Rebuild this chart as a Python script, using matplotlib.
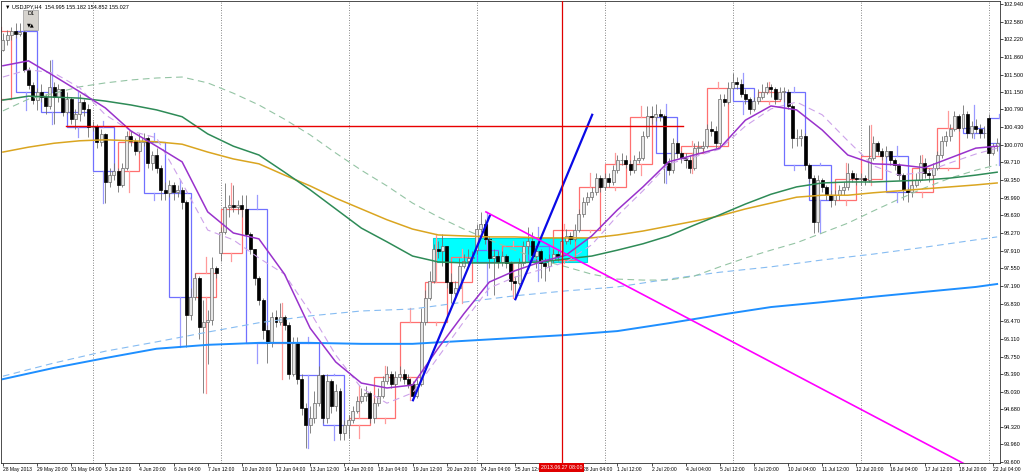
import matplotlib.pyplot as plt
import matplotlib.transforms as mtransforms
from matplotlib.patches import Rectangle
import numpy as np

plt.rcParams['font.family'] = ['Liberation Sans', 'DejaVu Sans']

# ---- H4 candles: bar -3 = 28 May 2013 00:00 ... bar 233 = 22 Jul 2013 08:00 ----
first_open = 101.00
closes = [
    101.30, 101.70, 102.00, 102.21, 102.30, 102.39,   # 28 May
    102.32, 102.37, 101.59, 101.29, 100.98, 101.15,   # 29 May
    101.05, 100.85, 101.25, 101.05, 101.20, 100.74,   # 30 May
    101.00, 100.60, 100.70, 100.95, 100.80, 100.43,   # 31 May
    100.45, 100.12, 100.28, 99.30, 99.45, 99.53,      # 3 Jun
    99.25, 99.60, 100.25, 100.15, 99.95, 100.13,      # 4 Jun
    100.20, 99.70, 99.85, 99.60, 99.15, 99.09,        # 5 Jun
    99.25, 99.10, 99.15, 98.90, 96.60, 96.97,         # 6 Jun
    97.35, 96.35, 96.45, 96.50, 97.55, 97.45,         # 7 Jun
    98.30, 98.80, 98.85, 98.80, 98.85, 98.76,         # 10 Jun
    98.25, 97.95, 97.35, 96.90, 96.30, 96.03,         # 11 Jun
    96.55, 96.45, 96.55, 96.40, 95.40, 96.03,         # 12 Jun
    95.30, 94.70, 94.35, 94.50, 94.80, 95.37,         # 13 Jun
    94.50, 95.25, 94.75, 95.05, 94.20, 94.35,         # 14 Jun
    94.45, 94.65, 94.85, 94.95, 95.00, 94.49,         # 17 Jun
    94.80, 94.95, 95.25, 95.40, 95.20, 95.33,         # 18 Jun
    95.40, 95.30, 95.20, 94.95, 95.20, 96.45,         # 19 Jun
    96.95, 97.30, 97.95, 97.90, 98.00, 97.27,         # 20 Jun
    97.05, 97.15, 97.60, 97.70, 97.75, 97.78,         # 21 Jun
    98.35, 98.45, 98.15, 97.75, 97.80, 97.68,         # 24 Jun
    97.80, 97.65, 97.30, 97.25, 97.65, 98.00,         # 25 Jun
    98.10, 97.80, 97.90, 97.65, 97.60, 97.72,         # 26 Jun
    97.85, 97.80, 98.10, 98.20, 98.15, 98.33,         # 27 Jun
    98.65, 98.90, 99.00, 99.10, 99.40, 99.20,         # 28 Jun
    99.40, 99.30, 99.55, 99.75, 99.75, 99.68,         # 1 Jul
    99.55, 99.75, 99.80, 100.25, 100.65, 100.64,      # 2 Jul
    100.70, 100.65, 99.70, 99.55, 100.10, 99.90,      # 3 Jul
    99.80, 99.75, 99.60, 100.00, 100.00, 100.04,      # 4 Jul
    100.40, 100.35, 100.10, 101.00, 100.95, 101.23,   # 5 Jul
    101.35, 101.30, 101.10, 101.00, 100.80, 100.96,   # 8 Jul
    101.05, 101.15, 101.25, 101.20, 101.00, 101.15,   # 9 Jul
    101.15, 100.85, 100.20, 100.20, 100.25, 99.66,    # 10 Jul
    99.40, 98.50, 99.35, 99.20, 99.05, 98.94,         # 11 Jul
    99.05, 99.15, 99.20, 99.50, 99.40, 99.37,         # 12 Jul
    99.40, 99.35, 99.80, 100.10, 99.95, 99.84,        # 15 Jul
    99.95, 99.75, 99.65, 99.45, 99.15, 99.10,         # 16 Jul
    99.25, 99.35, 99.70, 99.50, 99.45, 99.60,         # 17 Jul
    99.85, 100.15, 100.25, 100.40, 100.65, 100.41,    # 18 Jul
    100.70, 100.30, 100.45, 100.40, 100.30, 100.31,   # 19 Jul
    99.90, 100.05, 100.10,                            # 22 Jul
]
highs = [
    101.40, 101.80, 102.10, 102.35, 102.40, 102.48,
    102.55, 102.55, 102.40, 101.65, 101.35, 101.22,
    101.30, 101.10, 101.80, 101.35, 101.30, 101.20,
    101.15, 101.05, 100.80, 101.10, 101.00, 100.90,
    100.55, 100.50, 100.40, 100.30, 99.60, 99.70,
    99.60, 99.70, 100.35, 100.35, 100.20, 100.30,
    100.30, 100.25, 99.95, 100.00, 99.65, 99.30,
    99.35, 99.30, 99.25, 99.20, 98.95, 97.15,
    97.45, 97.40, 96.90, 96.70, 97.78, 97.60,
    98.40, 99.29, 99.05, 99.25, 98.95, 99.05,
    99.04, 98.30, 97.95, 97.40, 96.95, 96.40,
    96.65, 96.70, 96.85, 96.60, 96.45, 96.15,
    96.15, 95.40, 94.80, 94.75, 95.05, 95.55,
    95.40, 95.40, 95.30, 95.20, 95.10, 94.45,
    94.55, 94.75, 94.95, 95.10, 95.15, 95.05,
    94.90, 95.10, 95.35, 95.55, 95.45, 95.45,
    95.55, 95.50, 95.40, 95.25, 95.30, 96.75,
    97.10, 97.50, 98.05, 98.10, 98.25, 98.00,
    97.45, 97.30, 97.75, 97.85, 97.95, 97.90,
    98.45, 98.70, 98.55, 98.20, 97.95, 97.90,
    97.90, 97.85, 97.70, 97.40, 97.75, 98.10,
    98.40, 98.30, 98.00, 97.95, 97.75, 97.85,
    97.95, 97.95, 98.25, 98.35, 98.30, 98.45,
    98.75, 99.00, 99.10, 99.20, 99.50, 99.45,
    99.50, 99.50, 99.65, 99.85, 99.90, 99.85,
    99.75, 99.85, 99.95, 100.35, 100.85, 100.85,
    100.90, 100.80, 100.70, 99.80, 100.20, 100.15,
    99.95, 99.90, 99.85, 100.10, 100.15, 100.15,
    100.50, 100.55, 100.45, 101.10, 101.10, 101.35,
    101.53, 101.45, 101.40, 101.20, 101.05, 101.05,
    101.20, 101.30, 101.35, 101.30, 101.25, 101.25,
    101.25, 101.20, 100.90, 100.40, 100.40, 100.30,
    99.70, 99.45, 99.45, 99.40, 99.25, 99.15,
    99.15, 99.25, 99.30, 99.70, 99.55, 99.50,
    99.50, 99.45, 100.47, 100.25, 100.15, 100.00,
    100.05, 99.95, 99.80, 99.70, 99.50, 99.20,
    99.35, 99.50, 99.85, 99.80, 99.60, 99.70,
    99.95, 100.25, 100.35, 100.50, 100.75, 100.70,
    100.88, 100.75, 100.55, 100.60, 100.50, 100.45,
    100.70, 100.10, 100.20,
]
lows = [
    100.95, 101.25, 101.65, 101.98, 102.10, 102.20,
    102.25, 102.28, 101.55, 101.20, 100.90, 100.78,
    100.95, 100.70, 100.80, 100.50, 100.95, 100.65,
    100.70, 100.50, 100.40, 100.55, 100.65, 100.23,
    100.35, 100.00, 100.05, 98.88, 99.20, 99.35,
    99.10, 99.20, 99.55, 100.05, 99.85, 99.90,
    100.05, 99.60, 99.55, 99.50, 98.95, 98.95,
    99.00, 98.95, 99.00, 98.75, 95.94, 96.50,
    96.90, 96.10, 95.01, 95.60, 96.40, 97.35,
    97.70, 98.25, 98.60, 98.70, 98.65, 98.60,
    98.20, 97.85, 97.20, 96.80, 96.10, 95.62,
    95.95, 96.35, 96.40, 96.30, 95.30, 95.35,
    95.20, 94.55, 93.89, 94.20, 94.40, 94.75,
    94.40, 94.40, 94.60, 94.65, 94.05, 94.05,
    94.10, 94.40, 94.60, 94.80, 94.85, 94.40,
    94.40, 94.75, 94.90, 95.20, 95.10, 95.15,
    95.25, 95.20, 95.10, 94.86, 94.90, 95.15,
    96.40, 96.90, 97.25, 97.75, 97.60, 97.15,
    96.85, 96.95, 97.10, 97.55, 97.60, 97.65,
    97.85, 98.30, 98.05, 97.55, 97.00, 97.55,
    97.60, 97.55, 97.10, 96.95, 97.20, 97.60,
    97.85, 97.70, 97.55, 97.35, 97.30, 97.50,
    97.65, 97.70, 97.75, 98.05, 98.05, 98.10,
    98.30, 98.60, 98.85, 98.95, 99.05, 99.10,
    99.15, 99.20, 99.25, 99.50, 99.65, 99.60,
    99.45, 99.50, 99.70, 99.75, 100.20, 100.50,
    100.55, 100.55, 99.29, 99.45, 99.50, 99.80,
    99.70, 99.60, 99.50, 99.55, 99.90, 99.95,
    100.00, 100.25, 100.00, 100.05, 100.85, 100.90,
    101.20, 101.20, 101.05, 100.90, 100.70, 100.75,
    100.90, 101.00, 101.10, 101.05, 100.90, 101.00,
    100.95, 100.80, 100.00, 100.05, 100.05, 99.55,
    99.30, 98.27, 98.30, 99.10, 98.95, 98.80,
    98.85, 98.95, 99.05, 99.15, 99.30, 99.25,
    99.25, 99.25, 99.30, 99.75, 99.85, 99.75,
    99.80, 99.65, 99.55, 99.35, 98.95, 98.90,
    99.00, 99.20, 99.30, 99.40, 99.30, 99.40,
    99.55, 99.80, 100.05, 100.15, 100.35, 100.35,
    100.40, 100.20, 100.20, 100.30, 100.20, 100.20,
    99.65, 99.85, 99.95,
]
# weekend gaps: bar index -> open price
gap_opens = {51: 97.86, 111: 97.92, 231: 100.62}

# ---- moving averages ----
ma_long_bars = [0, 12, 24, 36, 48, 60, 72, 84, 96, 108, 120, 132, 144, 156,
                168, 180, 192, 204, 216, 228, 233]
ma_blue = [95.29, 95.52, 95.72, 95.91, 95.99, 96.03, 96.03, 96.01, 96.01, 96.07,
           96.13, 96.19, 96.27, 96.43, 96.60, 96.76, 96.86, 96.97, 97.07, 97.17, 97.23]
ma_lightblue = [95.35, 95.62, 95.86, 96.05, 96.25, 96.44, 96.58, 96.68, 96.72, 96.86,
                96.99, 97.09, 97.17, 97.33, 97.47, 97.58, 97.72, 97.84, 97.98, 98.13, 98.19]

ma_short_bars = list(range(0, 229, 6)) + [233]
ma_orange = [99.92, 100.02, 100.10, 100.15, 100.17, 100.15, 100.13, 100.08, 99.92, 99.78,
             99.68, 99.45, 99.23, 98.98, 98.76, 98.54, 98.35, 98.23, 98.21, 98.19,
             98.19, 98.17, 98.17, 98.17, 98.23, 98.31, 98.41, 98.51, 98.62, 98.76,
             98.88, 99.00, 99.04, 99.04, 99.09, 99.13, 99.17, 99.21, 99.25, 99.29]
ma_green = [100.98, 101.06, 101.04, 101.02, 100.96, 100.88, 100.78, 100.64, 100.29, 100.04,
            99.86, 99.51, 99.15, 98.76, 98.37, 98.09, 97.80, 97.68, 97.66, 97.66,
            97.66, 97.68, 97.74, 97.80, 97.92, 98.05, 98.21, 98.43, 98.64, 98.86,
            99.06, 99.21, 99.29, 99.31, 99.31, 99.33, 99.35, 99.39, 99.45, 99.51]
ma_lightgreen = [100.76, 101.00, 101.12, 101.25, 101.33, 101.39, 101.43, 101.45, 101.33, 101.12,
                 100.88, 100.59, 100.27, 99.90, 99.55, 99.23, 98.88, 98.60, 98.35, 98.13,
                 97.92, 97.72, 97.58, 97.43, 97.33, 97.31, 97.31, 97.39, 97.58, 97.76,
                 97.92, 98.07, 98.27, 98.47, 98.72, 98.96, 99.19, 99.39, 99.55, 99.66]
ma_purple = [101.68, 101.78, 101.47, 101.15, 100.82, 100.35, 100.04, 99.72, 98.70, 98.27,
             98.15, 97.43, 96.33, 95.64, 95.21, 95.11, 95.17, 95.92, 96.62, 97.27,
             97.50, 97.68, 97.82, 98.21, 98.74, 99.21, 99.72, 99.86, 100.00, 100.57,
             100.86, 100.78, 100.37, 99.86, 99.68, 99.66, 99.60, 99.80, 100.00, 100.04]
ma_purple_slow = [101.45, 101.60, 101.53, 101.23, 100.68, 100.35, 100.21, 99.29, 98.33, 98.13,
                  97.76, 97.43, 96.66, 95.78, 95.11, 94.80, 95.01, 95.74, 96.46, 97.15,
                  97.37, 97.52, 97.68, 98.03, 98.62, 99.13, 99.68, 99.82, 99.98, 100.45,
                  100.80, 100.94, 100.68, 100.15, 99.64, 99.45, 99.51, 99.70, 99.88, 100.00]

# ---- drawn objects ----
trend_blue_1 = ([96.1, 114.1], [94.86, 98.62])
trend_blue_2 = ([120.1, 138.1], [96.92, 100.68])
trend_magenta = ([113.2, 240.0], [98.70, 92.89])
level_red = 100.45
level_red_bars = (14.7, 159.3)
cursor_bar = 131
zone_bars = (100.9, 137.0)
zone_prices = (97.68, 98.17)
week_starts = [21, 51, 81, 111, 141, 171, 201, 231]

ytick_vals = [102.94, 102.58, 102.22, 101.86, 101.50, 101.15, 100.79, 100.43, 100.07,
              99.71, 99.35, 98.99, 98.63, 98.27, 97.91, 97.55, 97.19, 96.83, 96.47,
              96.11, 95.75, 95.39, 95.03, 94.68, 94.32, 93.96, 93.60]
xtick_bars = list(range(0, 233, 8))
# the label at 26 Jun 20:00 sits under the cursor time box, so it is left blank
xtick_text = ['28 May 2013', '29 May 20:00', '31 May 04:00', '3 Jun 12:00', '4 Jun 20:00',
              '6 Jun 04:00', '7 Jun 12:00', '10 Jun 20:00', '12 Jun 04:00', '13 Jun 12:00',
              '14 Jun 20:00', '18 Jun 04:00', '19 Jun 12:00', '20 Jun 20:00', '24 Jun 04:00',
              '25 Jun 12:00', '', '28 Jun 04:00', '1 Jul 12:00', '2 Jul 20:00',
              '4 Jul 04:00', '5 Jul 12:00', '8 Jul 20:00', '10 Jul 04:00', '11 Jul 12:00',
              '12 Jul 20:00', '16 Jul 04:00', '17 Jul 12:00', '18 Jul 20:00', '22 Jul 04:00']

# ---- build OHLC ----
bars = np.arange(-3, -3 + len(closes))
c = np.array(closes)
o = np.r_[first_open, c[:-1]]
for b, v in gap_opens.items():
    o[b + 3] = v
h = np.maximum(np.array(highs), np.maximum(o, c))
l = np.minimum(np.array(lows), np.minimum(o, c))

fig = plt.figure(figsize=(10.24, 4.75), dpi=100)
ax = fig.add_axes([0.0005, 0.0246, 0.9756, 0.9733])
ax.set_xlim(-0.56, 233.56)
ax.set_ylim(93.574, 103.0)

# cyan zone
ax.add_patch(Rectangle((zone_bars[0], zone_prices[0]), zone_bars[1] - zone_bars[0],
                       zone_prices[1] - zone_prices[0], facecolor='#00FFFF',
                       edgecolor='#00D8D8', lw=0.8, zorder=1))

# week separators
for wb in week_starts:
    ax.axvline(wb, color='#606060', lw=0.6, ls=(0, (1, 2)), zorder=1.5)

# D1 candles (aggregated from the H4 bars, 6 per day)
for k in range(0, len(c), 6):
    sl = slice(k, min(k + 6, len(c)))
    d_o, d_c = o[sl][0], c[sl][-1]
    d_h, d_l = h[sl].max(), l[sl].min()
    x0 = bars[k]
    x1 = x0 + 5
    xm = (x0 + x1) / 2
    col = '#FF7070' if d_c >= d_o else '#7070FF'
    wcol = '#FF9A9A' if d_c >= d_o else '#9A9AFF'
    top, bot = max(d_o, d_c), min(d_o, d_c)
    ax.add_patch(Rectangle((x0, bot), x1 - x0, top - bot, fill=False,
                           edgecolor=col, lw=0.9, zorder=2))
    ax.plot([xm, xm], [top, d_h], color=wcol, lw=0.9, zorder=2)
    ax.plot([xm, xm], [d_l, bot], color=wcol, lw=0.9, zorder=2)

# H4 candles
up = c >= o
ax.vlines(bars, l, h, color='#707070', lw=0.6, zorder=3)
body_b = np.minimum(o, c)
body_h = np.maximum(np.abs(c - o), 0.015)
ax.bar(bars[up], body_h[up], bottom=body_b[up], width=0.7, color='#E6E6E6',
       edgecolor='#6A6A6A', lw=0.5, zorder=3.1)
ax.bar(bars[~up], body_h[~up], bottom=body_b[~up], width=0.7, color='black',
       edgecolor='black', lw=0.5, zorder=3.1)

# moving averages
ax.plot(ma_long_bars, ma_lightblue, color='#86BCF2', lw=0.8, ls=(0, (6, 4)), zorder=4)
ax.plot(ma_long_bars, ma_blue, color='#1E8FFF', lw=1.4, zorder=4)
ax.plot(ma_short_bars, ma_lightgreen, color='#94C4A4', lw=0.8, ls=(0, (6, 4)), zorder=4)
ax.plot(ma_short_bars, ma_orange, color='#DAA520', lw=1.1, zorder=4)
ax.plot(ma_short_bars, ma_green, color='#2E8B57', lw=1.1, zorder=4)
ax.plot(ma_short_bars, ma_purple_slow, color='#CDA2EA', lw=0.8, ls=(0, (6, 4)), zorder=4)
ax.plot(ma_short_bars, ma_purple, color='#9932CC', lw=1.1, zorder=4)

# drawn lines
ax.plot(*trend_blue_1, color='#0A0AE6', lw=1.6, zorder=5)
ax.plot(*trend_blue_2, color='#0A0AE6', lw=1.6, zorder=5)
ax.plot(*trend_magenta, color='#FF00FF', lw=1.2, zorder=5)
ax.plot(level_red_bars, [level_red, level_red], color='#E80000', lw=1.0, zorder=5)
ax.axvline(cursor_bar, color='#E00000', lw=0.9, zorder=5)

# axes styling
for s in ['top', 'left', 'bottom', 'right']:
    ax.spines[s].set_linewidth(0.6)
    ax.spines[s].set_color('#303030')
ax.yaxis.tick_right()
ax.set_yticks(ytick_vals)
ax.set_yticklabels(['%.3f' % v for v in ytick_vals])
ax.tick_params(axis='y', labelsize=4, length=2, width=0.5, pad=1)
ax.set_xticks(xtick_bars)
ax.set_xticklabels(xtick_text)
ax.tick_params(axis='x', labelsize=3.6, length=2, width=0.5, pad=1)
for lbl in ax.get_xticklabels():
    lbl.set_horizontalalignment('left')

# cursor time label
trans = mtransforms.blended_transform_factory(ax.transData, ax.transAxes)
ax.text(cursor_bar, -0.004, '2013.06.27 08:00', transform=trans, ha='center', va='top',
        fontsize=3.8, color='white', zorder=10, clip_on=False,
        bbox=dict(facecolor='#E00000', edgecolor='none', pad=1.2))

# header and D1 button
ax.text(0.004, 0.992, '\u25bc USDJPY,H4  154.995 155.182 154.852 155.027',
        transform=ax.transAxes, fontsize=4, va='top', ha='left', color='black', zorder=10)
ax.add_patch(Rectangle((0.023, 0.938), 0.015, 0.043, transform=ax.transAxes,
                       facecolor='#D6D3CE', edgecolor='#9A9A9A', lw=0.5, zorder=10))
ax.text(0.0305, 0.972, 'D1', transform=ax.transAxes, fontsize=4, ha='center', va='center',
        color='black', zorder=11)
ax.text(0.0305, 0.948, '\u25bc\u25b2', transform=ax.transAxes, fontsize=3.6, ha='center',
        va='center', color='black', zorder=11, family=['DejaVu Sans'])

fig.savefig('out.png', dpi=100)
